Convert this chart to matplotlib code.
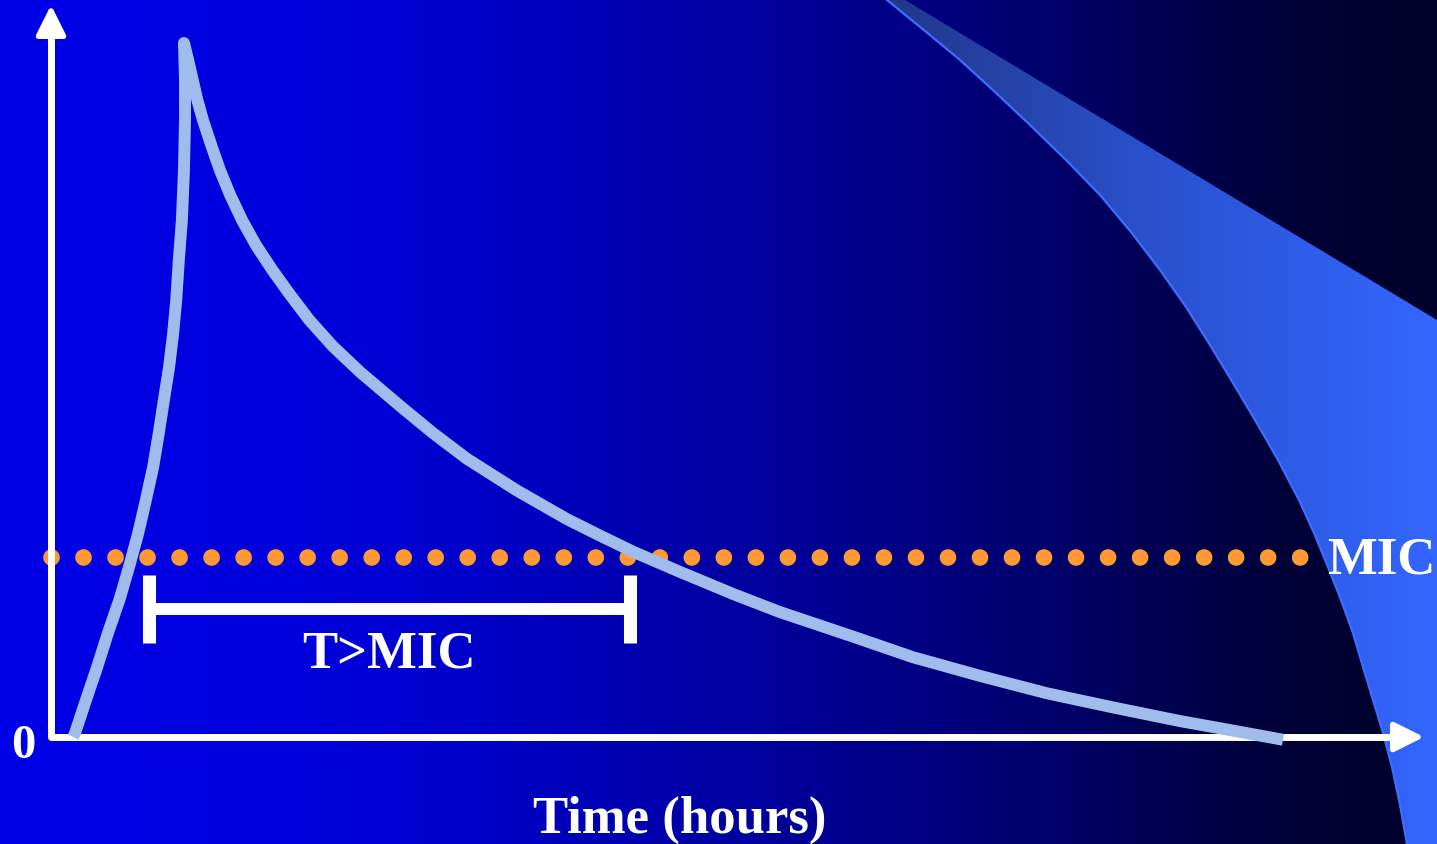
import numpy as np
import matplotlib
matplotlib.use("Agg")
import matplotlib.pyplot as plt
from matplotlib.colors import LinearSegmentedColormap
from matplotlib.patches import Polygon

plt.rcParams["font.family"] = ["Liberation Serif", "DejaVu Serif"]

# concentration-time curve (hours, concentration with peak = 100)
rise_t = [0.43, 0.47, 0.68, 0.90, 1.11, 1.33, 1.52, 1.70, 1.85, 1.99, 2.10, 2.20, 2.30,
          2.38, 2.44, 2.49, 2.55, 2.59, 2.61, 2.61, 2.59]
rise_c = [0.0, 0.6, 5.3, 10.1, 15.0, 19.7, 24.5, 29.4, 34.2, 38.9, 43.8, 48.6, 53.3,
          58.2, 63.0, 68.7, 74.5, 81.7, 88.9, 94.7, 100.0]
fall_t = [2.67, 2.76, 2.85, 2.96, 3.12, 3.29, 3.49, 3.72, 3.99, 4.31, 4.66, 5.03, 5.49,
          6.02, 6.80, 7.44, 8.10, 9.08, 10.05, 10.70, 11.34, 12.25, 13.29, 14.20, 15.57,
          16.79, 18.10, 19.40, 20.73, 21.99, 22.97, 24.0]
fall_c = [97.6, 94.7, 91.8, 88.9, 85.3, 81.7, 78.1, 74.5, 70.9, 67.3, 63.7, 60.1, 56.3,
          52.6, 47.7, 43.8, 40.1, 35.5, 31.4, 29.0, 26.7, 23.8, 20.6, 18.0, 14.6,
          11.5, 8.8, 6.3, 4.2, 2.3, 1.0, -0.4]

mic = 26.0
mic_end = 24.35
t_above = (1.91, 11.27)   # T>MIC bracket

# decorative swoosh in the background (pixel space)
swoosh_left_x = [887, 925, 960, 995, 1030, 1066, 1100, 1131, 1160, 1186, 1210, 1233,
                 1255, 1278, 1299, 1314, 1328, 1341, 1353, 1363, 1373, 1383, 1392, 1400, 1407]
swoosh_left_y = [0, 31, 60, 92, 125, 160, 195, 232, 270, 307, 345, 383,
                 420, 460, 500, 533, 567, 600, 633, 667, 700, 733, 767, 805, 844]
swoosh_right_x = [1437, 1437, 905]
swoosh_right_y = [844, 320, 0]

W, H = 1437, 844
fig = plt.figure(figsize=(W / 100, H / 100), dpi=100)

# background gradient
bg = fig.add_axes([0, 0, 1, 1])
bg.axis("off")
bg_cmap = LinearSegmentedColormap.from_list(
    "bg", [(0.0, (0, 0, 232 / 255)), (0.21, (0, 0, 220 / 255)), (0.31, (0, 0, 205 / 255)),
           (0.56, (0, 0, 150 / 255)), (0.72, (0, 0, 110 / 255)), (0.9, (0, 0, 55 / 255)),
           (1.0, (0, 0, 40 / 255))])
grad = np.linspace(0, 1, 512).reshape(1, -1)
bg.imshow(grad, cmap=bg_cmap, aspect="auto", extent=[0, W, H, 0], zorder=0)

poly_xy = list(zip(swoosh_left_x, swoosh_left_y)) + list(zip(swoosh_right_x, swoosh_right_y))
poly = Polygon(poly_xy, closed=True, facecolor="none", edgecolor="none")
bg.add_patch(poly)
sw_cmap = LinearSegmentedColormap.from_list("sw", ["#22378a", "#2a52d0", "#3366ff"])
img = bg.imshow(np.linspace(0, 1, 256).reshape(1, -1), cmap=sw_cmap, aspect="auto",
                extent=[887, W, H, 0], zorder=1)
img.set_clip_path(poly)
bg.plot(swoosh_left_x, swoosh_left_y, color="#3d6dff", lw=1.6, zorder=2)
bg.set_xlim(0, W)
bg.set_ylim(H, 0)

# main chart
k = (1283 - 51) / 24.0
s = 6.94
ax = fig.add_axes([0, 0, 1, 1])
ax.patch.set_alpha(0)
ax.axis("off")
ax.set_xlim(-51 / k, (W - 51) / k)
ax.set_ylim((737 - H) / s, 737 / s)

x_tip = (1424 - 51) / k
y_tip = (737 - 5) / s

# MIC dots
ax.plot([0, mic_end], [mic, mic], color="#ff9933", lw=12,
        linestyle=(0, (0.001, 1.92)), dash_capstyle="round", zorder=3)

# axes
ax.plot([0, 0, x_tip - 0.3], [y_tip - 2, 0, 0], color="white", lw=5,
        solid_joinstyle="round", solid_capstyle="butt", zorder=4)
arrow = dict(arrowstyle="-|>,head_length=1.0,head_width=0.5", color="white", lw=4,
             mutation_scale=18, shrinkA=0, shrinkB=0)
ax.annotate("", xy=(0, y_tip), xytext=(0, y_tip - 10), arrowprops=arrow, zorder=4)
ax.annotate("", xy=(x_tip, 0), xytext=(x_tip - 2, 0), arrowprops=arrow, zorder=4)

# concentration curve
ax.plot(rise_t + fall_t, rise_c + fall_c, color="#a0bcec", lw=8.6,
        solid_joinstyle="round", solid_capstyle="butt", zorder=5)

# T>MIC bracket
bar_c = (737 - 609) / s
tick_lo, tick_hi = (737 - 643) / s, (737 - 575) / s
ax.plot(t_above, [bar_c, bar_c], color="white", lw=8.6, solid_capstyle="butt", zorder=6)
for t in t_above:
    ax.plot([t, t], [tick_lo, tick_hi], color="white", lw=9.4, solid_capstyle="butt", zorder=6)

txt = dict(color="white", fontweight="bold", zorder=7)
ax.text(sum(t_above) / 2, (737 - 668) / s, "T>MIC", ha="center", va="baseline",
        fontsize=38, **txt)
ax.text((1327 - 51) / k, (737 - 573) / s, "MIC", ha="left", va="baseline",
        fontsize=38, **txt)
ax.text((680 - 51) / k, (737 - 833) / s, "Time (hours)", ha="center", va="baseline",
        fontsize=38, **txt)
ax.text((23 - 51) / k, (737 - 758) / s, "0", ha="center", va="baseline",
        fontsize=35, **txt)

fig.savefig("out.png", dpi=100)
